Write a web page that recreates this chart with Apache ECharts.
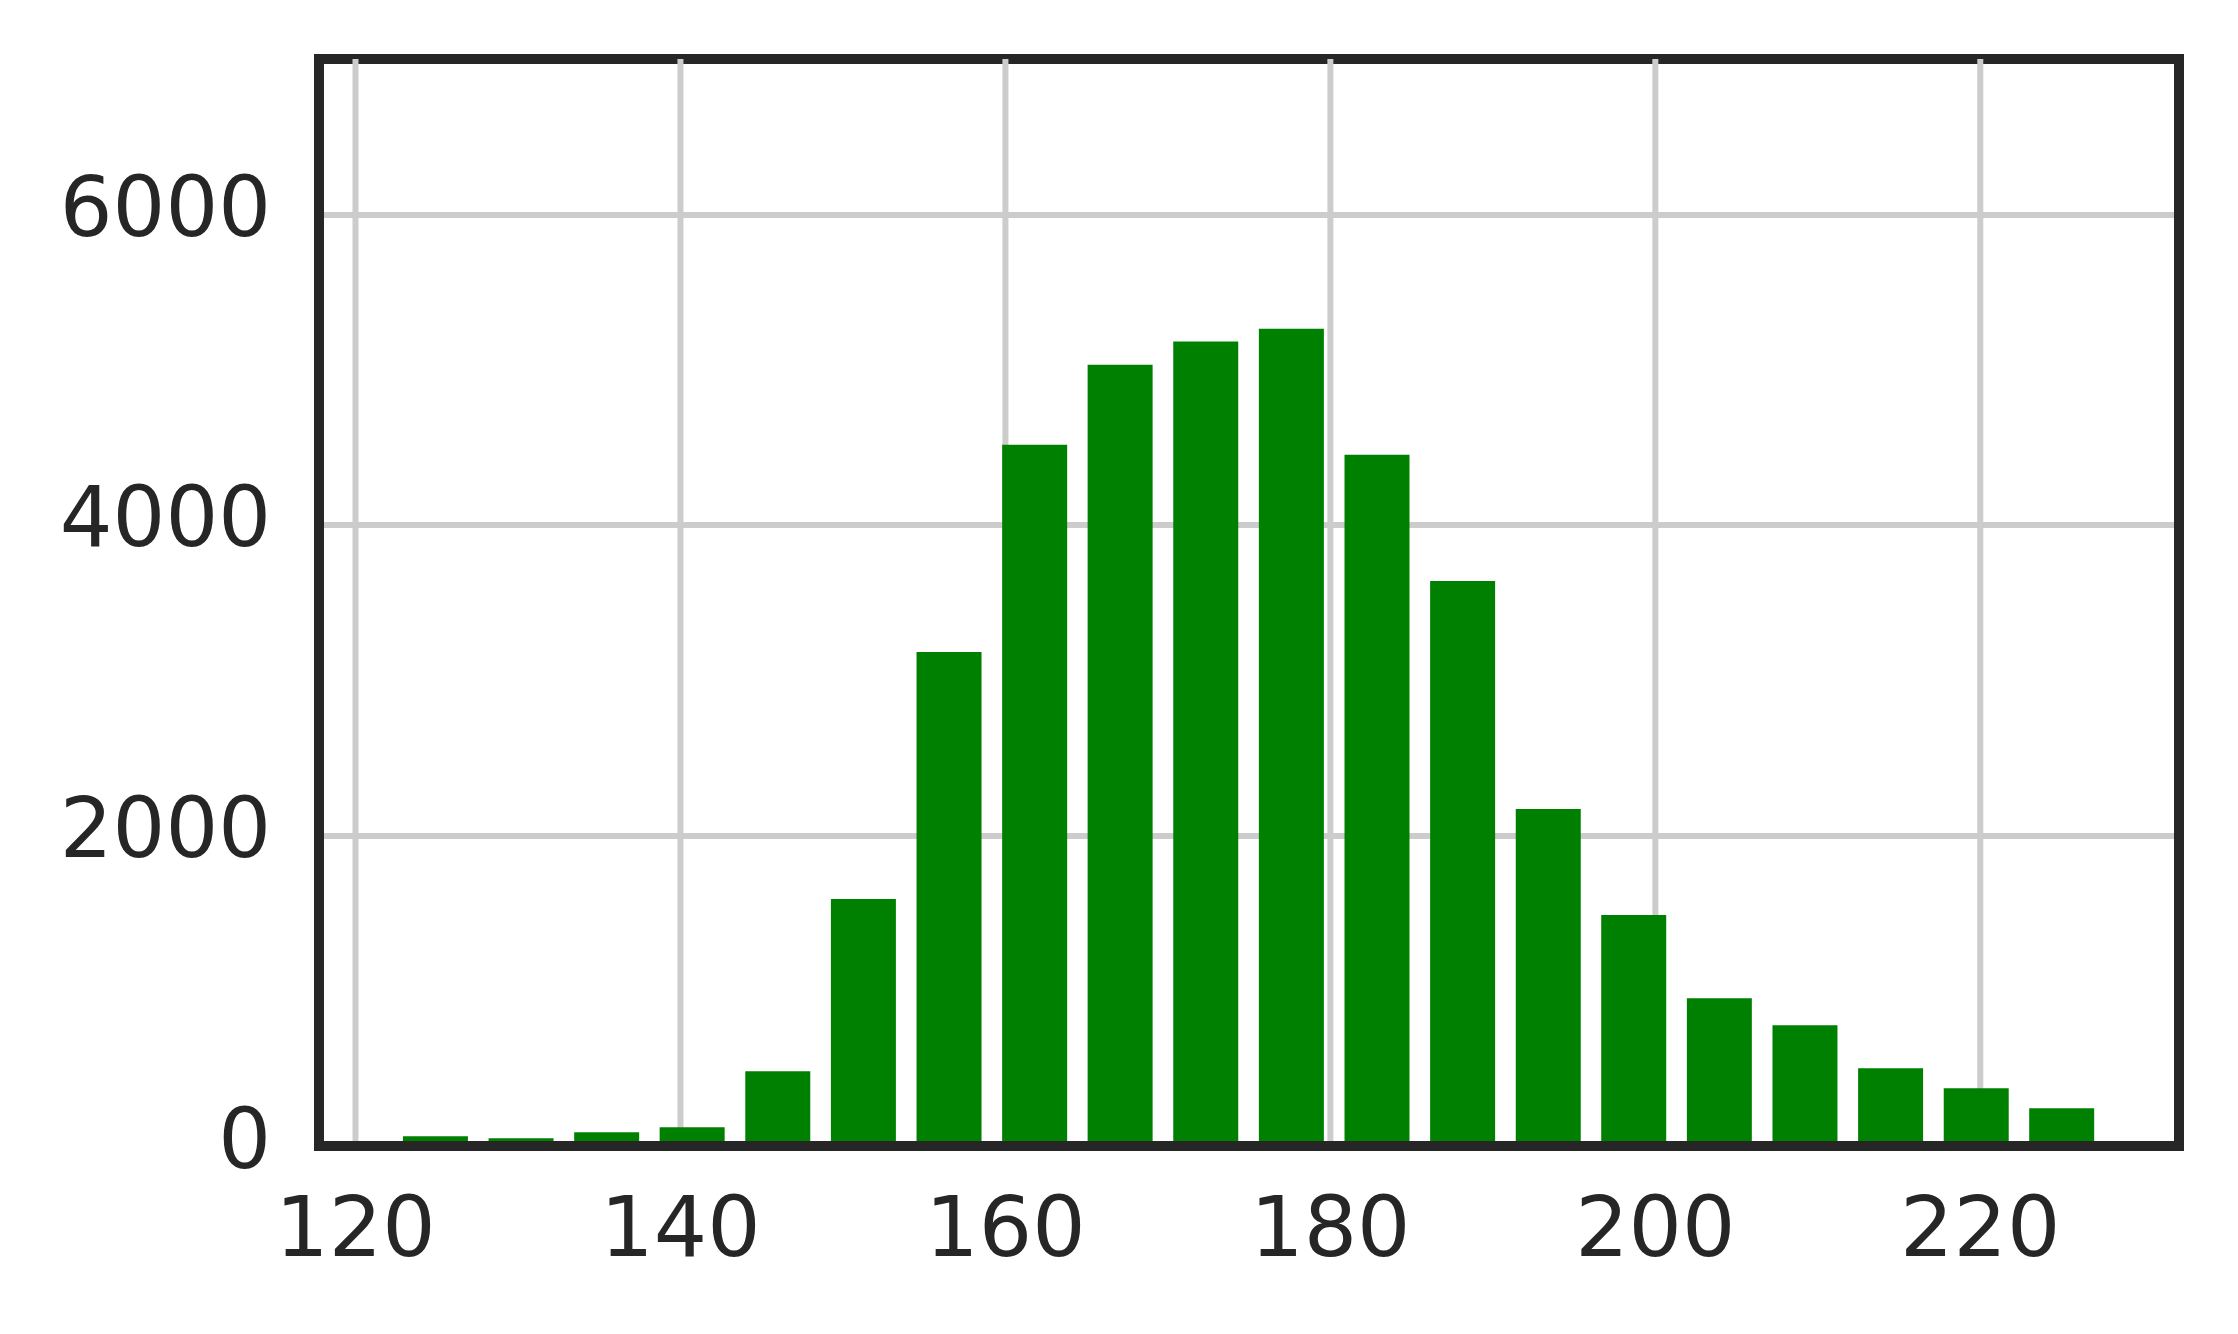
<!DOCTYPE html>
<html>
<head>
<meta charset="utf-8">
<title>histogram</title>
<script src="https://cdn.jsdelivr.net/npm/echarts@6/dist/echarts.min.js"></script>
<style>
  html, body { margin: 0; padding: 0; background: #ffffff; }
  #chart { width: 2238px; height: 1334px; }
</style>
</head>
<body>
<div id="chart"></div>
<script>
// bin centres (x) and counts (y)
var binCenters = [124.92, 130.19, 135.46, 140.72, 145.99, 151.26, 156.53, 161.80, 167.06, 172.33,
                  177.60, 182.87, 188.14, 193.41, 198.67, 203.94, 209.21, 214.48, 219.75, 225.01];
var counts = [62, 50, 88, 120, 481, 1590, 3182, 4516, 5031, 5180,
              5263, 4451, 3639, 2170, 1487, 952, 778, 501, 372, 243];
var xTicks = [120, 140, 160, 180, 200, 220];
var yTicks = [0, 2000, 4000, 6000];

var BAR_W = 4.0;          // bar width in x units
var X_MIN = 117.754, X_MAX = 232.23;
var Y_MIN = 0, Y_MAX = 7000;
var TEXT = '#262626';
var GRID = '#cccccc';

var chart = echarts.init(document.getElementById('chart'));

var seriesData = binCenters.map(function (c, i) { return [c, counts[i]]; });

// axis that only draws a spine, on top of everything
function spineX(pos) {
  return {
    type: 'value', position: pos, min: X_MIN, max: X_MAX, z: 10,
    axisLine: { show: true, lineStyle: { color: TEXT, width: 10 } },
    axisTick: { show: false }, axisLabel: { show: false }, splitLine: { show: false }
  };
}
function spineY(pos) {
  return {
    type: 'value', position: pos, min: Y_MIN, max: Y_MAX, z: 10,
    axisLine: { show: true, lineStyle: { color: TEXT, width: 10 } },
    axisTick: { show: false }, axisLabel: { show: false }, splitLine: { show: false }
  };
}

var option = {
  animation: false,
  backgroundColor: '#ffffff',
  grid: {
    left: 319, top: 59, width: 1860, height: 1087,
    show: true,
    borderColor: TEXT,
    borderWidth: 10,
    backgroundColor: 'transparent'
  },
  xAxis: [
    {
      type: 'value',
      min: X_MIN,
      max: X_MAX,
      axisLine: { show: false },
      axisTick: { show: false, customValues: xTicks },
      axisLabel: {
        customValues: xTicks,
        color: TEXT,
        fontFamily: 'DejaVu Sans',
        fontSize: 84,
        margin: 46
      },
      splitLine: { show: false }
    },
    spineX('bottom'),
    spineX('top')
  ],
  yAxis: [
    {
      type: 'value',
      min: Y_MIN,
      max: Y_MAX,
      interval: 2000,
      axisLine: { show: false },
      axisTick: { show: false },
      axisLabel: {
        customValues: yTicks,
        formatter: function (v) { return String(v); },
        color: TEXT,
        fontFamily: 'DejaVu Sans',
        fontSize: 83,
        margin: 48
      },
      splitLine: {
        show: true, showMinLine: false, showMaxLine: false,
        lineStyle: { color: GRID, width: 6 }
      }
    },
    spineY('left'),
    spineY('right')
  ],
  series: [
    {
      // vertical grid lines at the x ticks, under the bars
      type: 'custom',
      z: 1,
      silent: true,
      xAxisIndex: 0,
      yAxisIndex: 0,
      encode: { x: 0 },
      data: xTicks.map(function (v) { return [v]; }),
      renderItem: function (params, api) {
        var v = api.value(0);
        var a = api.coord([v, Y_MIN]);
        var b = api.coord([v, Y_MAX]);
        return {
          type: 'line',
          shape: { x1: a[0], y1: a[1], x2: b[0], y2: b[1] },
          style: { stroke: GRID, lineWidth: 6 }
        };
      }
    },
    {
      type: 'custom',
      z: 2,
      xAxisIndex: 0,
      yAxisIndex: 0,
      encode: { x: 0, y: 1 },
      data: seriesData,
      renderItem: function (params, api) {
        var c = api.value(0);
        var v = api.value(1);
        var p0 = api.coord([c - BAR_W / 2, 0]);
        var p1 = api.coord([c + BAR_W / 2, v]);
        return {
          type: 'rect',
          shape: { x: p0[0], y: p1[1], width: p1[0] - p0[0], height: p0[1] - p1[1] },
          style: { fill: '#008000' }
        };
      }
    }
  ]
};

chart.setOption(option);
</script>
</body>
</html>
